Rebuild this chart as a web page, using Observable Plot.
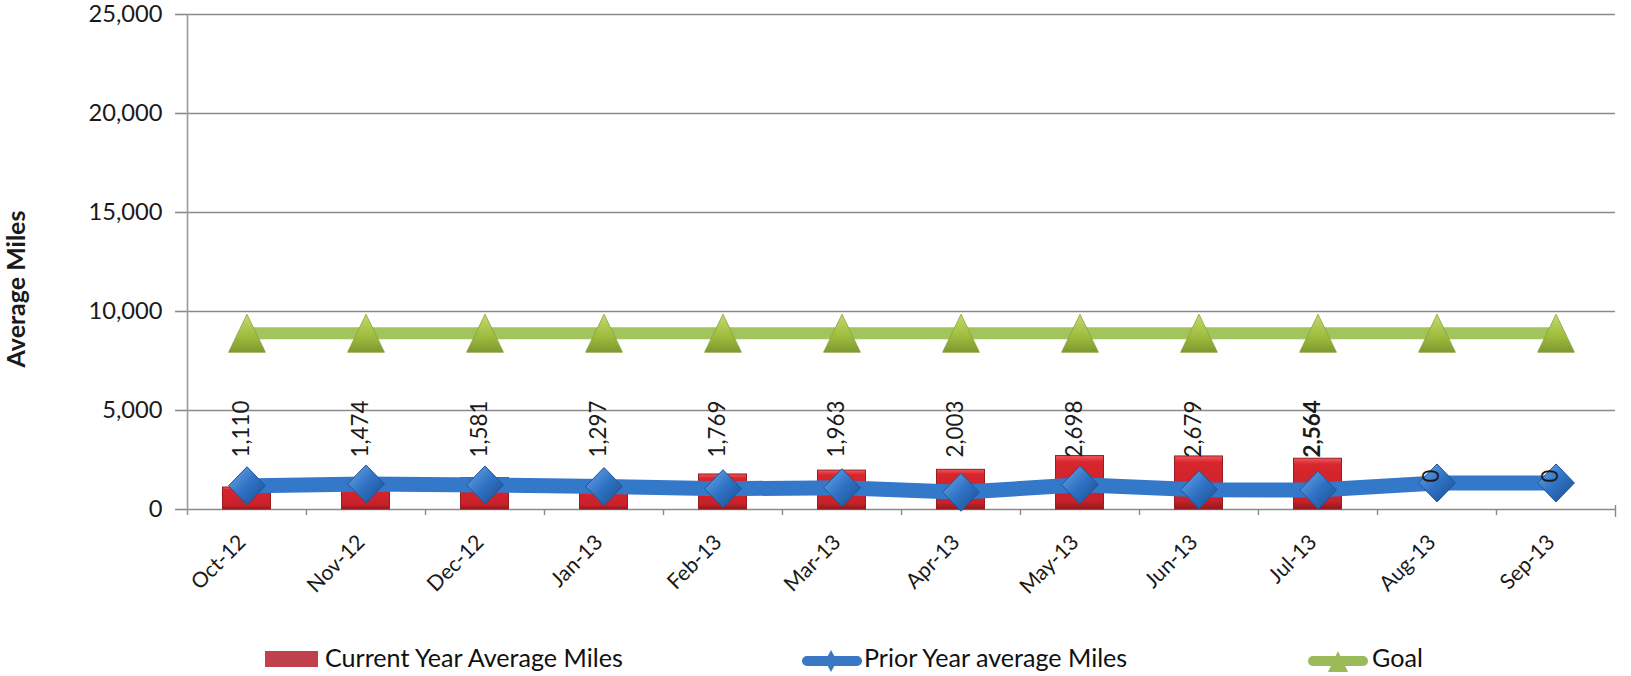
<!DOCTYPE html>
<html>
<head>
<meta charset="utf-8">
<script src="https://cdn.jsdelivr.net/npm/d3@7"></script>
<script src="https://cdn.jsdelivr.net/npm/@observablehq/plot@0.6"></script>
<style>
  html, body { margin: 0; padding: 0; background: #fff; }
  #wrap { position: relative; width: 1631px; height: 676px; font-family: Lato, "Open Sans", sans-serif; }
  #chart { position: absolute; left: 0; top: 0; }
  #legend { position: absolute; left: 0; top: 615px; }
</style>
</head>
<body>
<div id="wrap"><div id="chart"></div><div id="legend"></div></div>
<script>
// ---- data ----
const months = ["Oct-12","Nov-12","Dec-12","Jan-13","Feb-13","Mar-13","Apr-13","May-13","Jun-13","Jul-13","Aug-13","Sep-13"];
const currentYear = [1110, 1474, 1581, 1297, 1769, 1963, 2003, 2698, 2679, 2564, 0, 0];
const priorYear = [1200, 1290, 1240, 1160, 1050, 1100, 870, 1250, 1000, 980, 1340, 1340];
const goal = [8900, 8900, 8900, 8900, 8900, 8900, 8900, 8900, 8900, 8900, 8900, 8900];
const yTicks = [0, 5000, 10000, 15000, 20000, 25000];
const seriesNames = ["Current Year Average Miles", "Prior Year average Miles", "Goal"];
const yTitle = "Average Miles";
const boldLabelMonths = ["Jul-13"];

const rows = months.map((m, i) => ({month: m, current: currentYear[i], prior: priorYear[i], goal: goal[i]}));

// ---- layout ----
const W = 1631, H = 615, mL = 187, mR = 16, mT = 14, mB = 106;
const half = (W - mL - mR) / months.length / 2;
const fmt = d3.format(",");

const diamond = {draw(ctx, size) { const r = Math.sqrt(size / Math.PI); ctx.moveTo(0, -r); ctx.lineTo(r * 0.97, 0); ctx.lineTo(0, r); ctx.lineTo(-r * 0.97, 0); ctx.closePath(); }};
const triangle = {draw(ctx, size) { const r = Math.sqrt(size / Math.PI); ctx.moveTo(0, -r); ctx.lineTo(r * 0.97, r); ctx.lineTo(-r * 0.97, r); ctx.closePath(); }};

const lastMonth = months[months.length - 1];

const svg = Plot.plot({
  width: W, height: H,
  marginLeft: mL, marginRight: mR, marginTop: mT, marginBottom: mB,
  style: {fontFamily: "Lato, 'Open Sans', sans-serif", fontSize: "22px", color: "#1a1a1a", background: "#fff"},
  x: {type: "band", domain: months, padding: 0, axis: null},
  y: {domain: [0, 25000], axis: null},
  marks: [
    Plot.gridY(yTicks, {stroke: "#8a8a8a", strokeOpacity: 1, strokeWidth: 1.6}),
    Plot.axisY(yTicks, {tickFormat: fmt, tickSize: 12, tickPadding: 13, stroke: "#8a8a8a", strokeWidth: 1.6, fontSize: 23, fill: "#1a1a1a"}),
    Plot.ruleX([0], {x: () => months[0], dx: -half, stroke: "#9a9a9a", strokeWidth: 1.6, insetBottom: -6}),
    Plot.ruleX(months.slice(1), {x: d => d, dx: -half, y1: () => 0, y2: () => 0, insetBottom: -6, stroke: "#8a8a8a", strokeWidth: 1.4}),
    Plot.ruleX([lastMonth], {x: d => d, dx: half, y1: () => 0, y2: () => 0, insetBottom: -8, insetTop: -4, stroke: "#8a8a8a", strokeWidth: 1.4}),
    Plot.barY(rows, {x: "month", y: "current", insetLeft: half - 24, insetRight: half - 24, fill: "url(#redGrad)", stroke: "#9a1b20", strokeWidth: 1}),
    Plot.line(rows, {x: "month", y: "prior", stroke: "#3479c9", strokeWidth: 15, strokeLinejoin: "round"}),
    Plot.dot(rows, {x: "month", y: "prior", r: 19, symbol: diamond, fill: "url(#blueGrad)", stroke: "#1e5597", strokeWidth: 1}),
    Plot.line(rows, {x: "month", y: "goal", stroke: "#a2c45c", strokeWidth: 12}),
    Plot.dot(rows, {x: "month", y: "goal", r: 19, symbol: triangle, fill: "url(#greenGrad)", stroke: "#86a33a", strokeWidth: 0.8}),
    Plot.text(rows.filter(d => d.current > 0 && !boldLabelMonths.includes(d.month)), {x: "month", text: d => fmt(d.current), frameAnchor: "bottom", dy: -52, dx: 2, rotate: -90, textAnchor: "start", fontSize: 22, fill: "#1a1a1a"}),
    Plot.text(rows.filter(d => d.current > 0 && boldLabelMonths.includes(d.month)), {x: "month", text: d => fmt(d.current), frameAnchor: "bottom", dy: -52, dx: 2, rotate: -90, textAnchor: "start", fontSize: 22, fontWeight: "bold", fill: "#1a1a1a"}),
    Plot.text(rows.filter(d => d.current === 0), {x: "month", text: d => fmt(d.current), frameAnchor: "bottom", dy: -27, dx: 2, rotate: -90, textAnchor: "start", fontSize: 22, fill: "#1a1a1a"}),
    Plot.text(months, {x: d => d, frameAnchor: "bottom", dy: 34, rotate: -45, textAnchor: "end", fontSize: 22, fill: "#1a1a1a"}),
    Plot.text([yTitle], {frameAnchor: "left", dx: -171, dy: 27, rotate: -90, textAnchor: "middle", fontSize: 24, fontWeight: "bold", fill: "#1a1a1a"})
  ]
});

const defs = document.createElementNS("http://www.w3.org/2000/svg", "defs");
defs.innerHTML = `
  <linearGradient id="redGrad" x1="0" y1="0" x2="0" y2="1">
    <stop offset="0" stop-color="#ee5a5f"/><stop offset="0.12" stop-color="#d8262d"/>
    <stop offset="0.85" stop-color="#c8212a"/><stop offset="1" stop-color="#8f1a1e"/>
  </linearGradient>
  <linearGradient id="blueGrad" x1="0" y1="0" x2="1" y2="1">
    <stop offset="0" stop-color="#6fa8e8"/><stop offset="0.5" stop-color="#2f72c4"/><stop offset="1" stop-color="#1b4e8c"/>
  </linearGradient>
  <linearGradient id="greenGrad" x1="0" y1="0" x2="0" y2="1">
    <stop offset="0" stop-color="#c3da6c"/><stop offset="0.6" stop-color="#9dbb3c"/><stop offset="1" stop-color="#7c9830"/>
  </linearGradient>`;
svg.insertBefore(defs, svg.firstChild);
document.getElementById("chart").appendChild(svg);

// ---- legend ----
const lg = d3.select("#legend").append("svg").attr("width", W).attr("height", 61)
  .style("font-family", "Lato, 'Open Sans', sans-serif").style("font-size", "22.5px");
lg.append("rect").attr("x", 265).attr("y", 36).attr("width", 53).attr("height", 16).attr("fill", "#c0404c");
lg.append("text").attr("x", 325).attr("y", 52).attr("fill", "#111").text(seriesNames[0]);
lg.append("line").attr("x1", 807).attr("x2", 857).attr("y1", 46).attr("y2", 46).attr("stroke", "#3a78c4").attr("stroke-width", 10).attr("stroke-linecap", "round");
lg.append("path").attr("d", "M831,35L837,46L831,57L825,46Z").attr("fill", "#3a78c4");
lg.append("text").attr("x", 864).attr("y", 52).attr("fill", "#111").text(seriesNames[1]);
lg.append("line").attr("x1", 1313).attr("x2", 1363).attr("y1", 46).attr("y2", 46).attr("stroke", "#9bbb59").attr("stroke-width", 10).attr("stroke-linecap", "round");
lg.append("path").attr("d", "M1338,36L1348,57L1328,57Z").attr("fill", "#9bbb59");
lg.append("text").attr("x", 1372).attr("y", 52).attr("fill", "#111").text(seriesNames[2]);

// ---- match text widths of the reference's (narrower-metric) font ----
function fit(texts, sample, target) {
  const s = texts.find(t => t.textContent === sample);
  if (!s) return;
  const len = s.getComputedTextLength();
  if (!len) return;
  const fs = parseFloat(getComputedStyle(s).fontSize) * target / len;
  texts.forEach(t => t.style.fontSize = fs + "px");
}
const allTexts = [...svg.querySelectorAll("text")];
const isRot = t => /rotate/.test(t.getAttribute("transform") || "");
const tickSet = new Set(yTicks.map(fmt));
const yTickTexts = allTexts.filter(t => !isRot(t) && tickSet.has(t.textContent));
const xLabelTexts = allTexts.filter(t => months.includes(t.textContent));
const titleTexts = allTexts.filter(t => t.textContent === yTitle);
const dataTexts = allTexts.filter(t => isRot(t) && !months.includes(t.textContent) && t.textContent !== yTitle);
fit(yTickTexts, "25,000", 74);
fit(xLabelTexts, "Oct-12", 67);
fit(titleTexts, yTitle, 157);
fit(dataTexts, "1,110", 57);
fit([...document.querySelectorAll("#legend text")], seriesNames[0], 298);
</script>
</body>
</html>
